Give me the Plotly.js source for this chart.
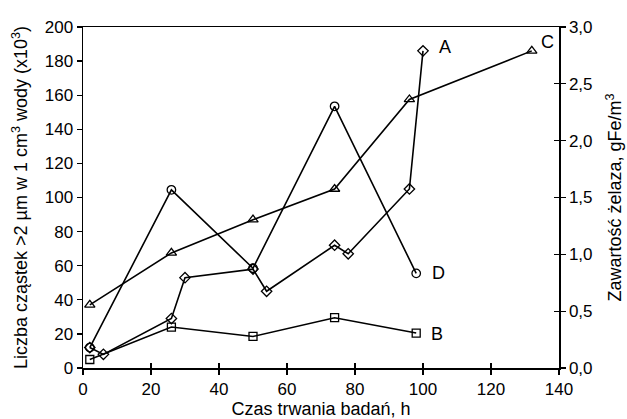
<!DOCTYPE html>
<html>
<head>
<meta charset="utf-8">
<script src="https://cdn.plot.ly/plotly-3.0.1.min.js"></script>
<style>html,body{margin:0;padding:0;background:#fff;}#chart{width:627px;height:419px;}</style>
</head>
<body>
<div id="chart"></div>
<script>
// Series A (diamonds)
var xA = [2, 6, 26, 30, 50, 54, 74, 78, 96, 100];
var yA = [12, 8, 29, 53, 58, 45, 72, 67, 105, 186];
// Series B (squares)
var xB = [2, 26, 50, 74, 98];
var yB = [5, 24, 18.5, 29.5, 20.5];
// Series C (triangles)
var xC = [2, 26, 50, 74, 96, 132];
var yC = [37, 67.5, 87, 105, 157.5, 186];
// Series D (circles)
var xD = [2, 26, 50, 74, 98];
var yD = [12, 104.5, 58.5, 153.5, 55.5];

var seriesLabels = ['A', 'B', 'C', 'D'];
var labelX = [106.5, 104, 136.5, 104.5];
var labelY = [188, 20, 191, 56];

var xTicks = [0, 20, 40, 60, 80, 100, 120, 140];
var yTicks = [0, 20, 40, 60, 80, 100, 120, 140, 160, 180, 200];
var y2Ticks = [0, 0.5, 1, 1.5, 2, 2.5, 3];
var y2TickText = ['0,0', '0,5', '1,0', '1,5', '2,0', '2,5', '3,0'];

var FONT = 'Liberation Sans, Arial, Helvetica, sans-serif';

function series(x, y, sym, size) {
  return {
    x: x, y: y, type: 'scatter', mode: 'lines+markers',
    line: {color: '#000', width: 1.6},
    marker: {symbol: sym, size: size, color: '#000', line: {color: '#000', width: 1.3}},
    showlegend: false, hoverinfo: 'x+y'
  };
}

var data = [
  series(xB, yB, 'square-open', 8),
  series(xC, yC, 'triangle-up-open', 9),
  series(xA, yA, 'diamond-open', 8),
  series(xD, yD, 'circle-open', 8.5),
  {x: [0], y: [0], xaxis: 'x', yaxis: 'y2', mode: 'none', type: 'scatter', showlegend: false, hoverinfo: 'skip'},
  {x: [0], y: [0], xaxis: 'x2', yaxis: 'y3', mode: 'none', type: 'scatter', showlegend: false, hoverinfo: 'skip'}
];

var annotations = seriesLabels.map(function (t, i) {
  return {x: labelX[i], y: labelY[i], xref: 'x', yref: 'y', text: t, showarrow: false,
          font: {family: FONT, size: 18, color: '#000'}, xanchor: 'center', yanchor: 'middle'};
});

var layout = {
  width: 627, height: 419,
  margin: {l: 83, r: 68, t: 27, b: 51},
  paper_bgcolor: '#fff', plot_bgcolor: '#fff',
  font: {family: FONT, size: 17, color: '#000'},
  xaxis: {
    range: [0, 140], tickvals: xTicks, ticks: 'outside', ticklen: 5, tickwidth: 1.3, tickcolor: '#000',
    showline: true, linecolor: '#000', linewidth: 1.5, mirror: true, showgrid: false, zeroline: false,
    tickfont: {family: FONT, size: 17},
    title: {text: 'Czas trwania badań, h', font: {family: FONT, size: 18}, standoff: 2}
  },
  xaxis2: {
    range: [0, 140], tickvals: xTicks, ticks: 'inside', ticklen: 5, tickwidth: 1.3, tickcolor: '#000',
    overlaying: 'x', anchor: 'y', side: 'bottom', showticklabels: false, showline: false,
    showgrid: false, zeroline: false
  },
  yaxis: {
    range: [0, 200], tickvals: yTicks, ticks: 'outside', ticklen: 5, tickwidth: 1.3, tickcolor: '#000',
    showline: true, linecolor: '#000', linewidth: 1.5, showgrid: false, zeroline: false,
    tickfont: {family: FONT, size: 17},
    title: {text: 'Liczba cząstek >2 µm w 1 cm<sup>3</sup> wody (x10<sup>3</sup>)', font: {family: FONT, size: 18}, standoff: 12}
  },
  yaxis2: {
    range: [0, 3], tickvals: y2Ticks, ticktext: y2TickText, ticks: 'outside', ticklen: 5, tickwidth: 1.3, tickcolor: '#000',
    overlaying: 'y', side: 'right', anchor: 'x',
    showline: true, linecolor: '#000', linewidth: 1.5, showgrid: false, zeroline: false,
    tickfont: {family: FONT, size: 17},
    title: {text: 'Zawartość żelaza, gFe/m<sup>3</sup>', font: {family: FONT, size: 18}, standoff: 17}
  },
  yaxis3: {
    range: [0, 3], tickvals: y2Ticks, ticks: 'inside', ticklen: 5, tickwidth: 1.3, tickcolor: '#000',
    overlaying: 'y', side: 'right', anchor: 'x2', showticklabels: false, showline: false,
    showgrid: false, zeroline: false
  },
  annotations: annotations
};

Plotly.newPlot('chart', data, layout, {displayModeBar: false, staticPlot: true});
</script>
</body>
</html>
